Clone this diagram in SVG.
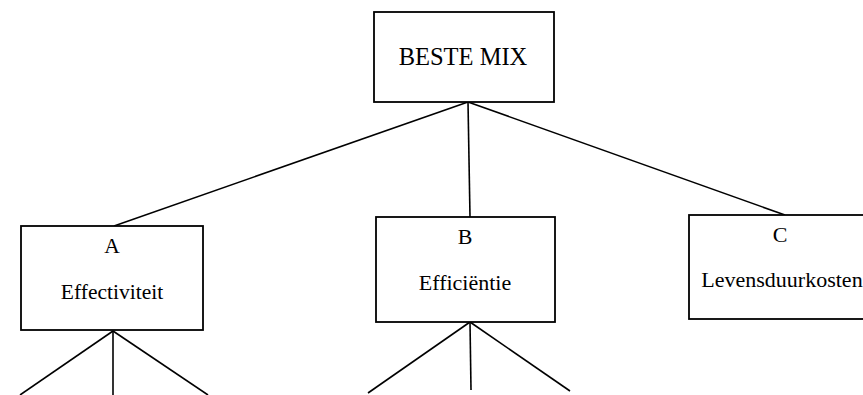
<svg xmlns="http://www.w3.org/2000/svg" width="863" height="395" viewBox="0 0 863 395">
<style>
.box{fill:#fff;stroke:#000;stroke-width:1.8}
.ln{stroke:#000;stroke-width:1.6;fill:none}
.t{font-family:"Liberation Serif","Times New Roman",serif;fill:#000;text-anchor:middle}
</style>
<rect width="863" height="395" fill="#fff"/>
<g id="connectors">
<line class="ln" x1="468" y1="102" x2="114" y2="226"/>
<line class="ln" x1="468" y1="102" x2="470" y2="217"/>
<line class="ln" x1="468" y1="102" x2="785" y2="215"/>
<line class="ln" x1="113" y1="331" x2="20" y2="395"/>
<line class="ln" x1="113" y1="331" x2="113" y2="395"/>
<line class="ln" x1="113" y1="331" x2="208" y2="395"/>
<line class="ln" x1="470" y1="322" x2="368" y2="393"/>
<line class="ln" x1="470" y1="322" x2="471" y2="390"/>
<line class="ln" x1="470" y1="322" x2="570" y2="391"/>
</g>
<g id="root">
<rect class="box" x="374" y="12" width="180" height="90"/>
<text class="t" x="463" y="65" font-size="24.5">BESTE MIX</text>
</g>
<g id="nodeA">
<rect class="box" x="21" y="226" width="182" height="104"/>
<text class="t" x="112" y="253" font-size="21.5">A</text>
<text class="t" x="112" y="299" font-size="21.5">Effectiviteit</text>
</g>
<g id="nodeB">
<rect class="box" x="376" y="217" width="179" height="105"/>
<text class="t" x="465" y="244" font-size="22">B</text>
<text class="t" x="465" y="290" font-size="22">Efficiëntie</text>
</g>
<g id="nodeC">
<rect class="box" x="689" y="215" width="190" height="104"/>
<text class="t" x="780" y="242" font-size="22">C</text>
<text class="t" x="782" y="287" font-size="22">Levensduurkosten</text>
</g>
</svg>
